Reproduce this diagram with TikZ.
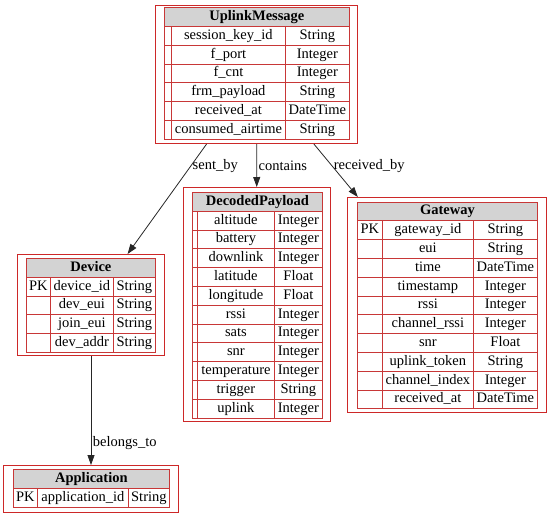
\documentclass[tikz,border=0pt]{standalone}
\usepackage{fontspec}
\setmainfont{Liberation Serif}
\usetikzlibrary{arrows, arrows.meta}
\definecolor{tabred}{RGB}{200,55,55}
\definecolor{framered}{RGB}{205,40,40}
\definecolor{headgray}{RGB}{211,211,211}

\tikzset{
  tblframe/.style={draw=framered, line width=1pt, inner sep=0pt, anchor=north west},
  cell/.style={draw=tabred, line width=0.8pt, inner sep=0pt, anchor=north west,
    minimum height=18.8pt, text height=10pt, text depth=3pt,
    font=\fontsize{14.5}{16}\selectfont},
  head/.style={cell, fill=headgray, font=\fontsize{14.5}{16}\selectfont\bfseries},
  rel/.style={draw=black!85, line width=0.8pt, -{Triangle[length=10pt,width=7pt]}},
  rellabel/.style={font=\fontsize{14.5}{16}\selectfont, inner sep=1.5pt}
}

\begin{document}
\begin{tikzpicture}[x=1pt, y=-1pt]
  \useasboundingbox (0,0) rectangle (550,515);

  % UplinkMessage
  \node[tblframe, minimum width=202pt, minimum height=138pt] (msg) at (155,5) {};
  \node[head, minimum width=185pt] (msg-h) at (164,7.2) {UplinkMessage};
  \foreach \n/\t [count=\i] in {session\_key\_id/String, f\_port/Integer, f\_cnt/Integer,
      frm\_payload/String, received\_at/DateTime, consumed\_airtime/String}{
    \node[cell, minimum width=7pt] (msg-k\i) at (164,7.2+18.8*\i) {};
    \node[cell, minimum width=114pt] (msg-n\i) at (171,7.2+18.8*\i) {\n};
    \node[cell, minimum width=64pt] (msg-t\i) at (285,7.2+18.8*\i) {\t};
  }

  % Device
  \node[tblframe, minimum width=147pt, minimum height=101pt] (device) at (17,254) {};
  \node[head, minimum width=129pt] (device-h) at (26,258) {Device};
  \foreach \k/\n/\t [count=\i] in {PK/device\_id/String, /dev\_eui/String,
      /join\_eui/String, /dev\_addr/String}{
    \node[cell, minimum width=24pt] (device-k\i) at (26,258+18.8*\i) {\k};
    \node[cell, minimum width=63pt] (device-n\i) at (50,258+18.8*\i) {\n};
    \node[cell, minimum width=42pt] (device-t\i) at (113,258+18.8*\i) {\t};
  }

  % DecodedPayload
  \node[tblframe, minimum width=147pt, minimum height=234pt] (payload) at (183,187) {};
  \node[head, minimum width=130pt] (payload-h) at (192,192) {DecodedPayload};
  \foreach \n/\t [count=\i] in {altitude/Integer, battery/Integer, downlink/Integer,
      latitude/Float, longitude/Float, rssi/Integer, sats/Integer, snr/Integer,
      temperature/Integer, trigger/String, uplink/Integer}{
    \node[cell, minimum width=5pt] (payload-k\i) at (192,192+18.8*\i) {};
    \node[cell, minimum width=77pt] (payload-n\i) at (197,192+18.8*\i) {\n};
    \node[cell, minimum width=48pt] (payload-t\i) at (274,192+18.8*\i) {\t};
  }

  % Gateway
  \node[tblframe, minimum width=199pt, minimum height=215pt] (gateway) at (347,197) {};
  \node[head, minimum width=180pt] (gateway-h) at (357,201.5) {Gateway};
  \foreach \k/\n/\t [count=\i] in {PK/gateway\_id/String, /eui/String, /time/DateTime,
      /timestamp/Integer, /rssi/Integer, /channel\_rssi/Integer, /snr/Float,
      /uplink\_token/String, /channel\_index/Integer, /received\_at/DateTime}{
    \node[cell, minimum width=25pt] (gateway-k\i) at (357,201.5+18.8*\i) {\k};
    \node[cell, minimum width=91pt] (gateway-n\i) at (382,201.5+18.8*\i) {\n};
    \node[cell, minimum width=64pt] (gateway-t\i) at (473,201.5+18.8*\i) {\t};
  }

  % Application
  \node[tblframe, minimum width=175pt, minimum height=47pt] (app) at (3,465) {};
  \node[head, minimum width=156pt] (app-h) at (13,469) {Application};
  \node[cell, minimum width=24pt] (app-k1) at (13,487.8) {PK};
  \node[cell, minimum width=91pt] (app-n1) at (37,487.8) {application\_id};
  \node[cell, minimum width=41pt] (app-t1) at (128,487.8) {String};

  % relations
  \draw[rel] (msg) -- node[rellabel, pos=0.2, right] {sent\_by} (device);
  \draw[rel] (msg) -- node[rellabel, pos=0.5, right] {contains} (payload);
  \draw[rel] (msg) -- node[rellabel, pos=0.41, right] {received\_by} (gateway);
  \draw[rel] (device) -- node[rellabel, pos=0.8, right] {belongs\_to} (app);
\end{tikzpicture}
\end{document}
